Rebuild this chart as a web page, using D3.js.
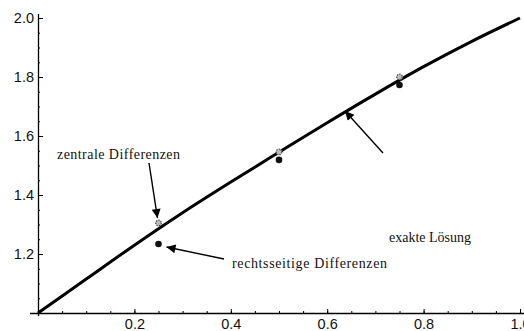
<!DOCTYPE html>
<html lang="de">
<head>
<meta charset="UTF-8">
<title>Differenzenverfahren</title>
<script src="https://d3js.org/d3.v7.min.js"></script>
<style>
    body { margin: 0; background: #fff; }
    svg { font-family: "Liberation Serif", "DejaVu Serif", serif; }
    .axis path, .axis line { stroke: #000; stroke-width: 1px; }
    .axis .domain { stroke-width: 1.3px; }
    .axis text { font-size: 14.5px; fill: #111; }
    .note { font-size: 14px; fill: #111; }
</style>
</head>
<body>
<svg id="chart" width="524" height="331"></svg>
<script>
    // exakte Lösung
    const xExact = [0, 0.1, 0.2, 0.3, 0.4, 0.5, 0.6, 0.7, 0.8, 0.9, 1.0];
    const yExact = [1.0, 1.115, 1.23, 1.34, 1.444, 1.545, 1.645, 1.742, 1.835, 1.921, 2.0];

    // Gitterpunkte
    const xNodes = [0.25, 0.5, 0.75];
    const yCentral = [1.305, 1.546, 1.80];
    const yRight = [1.234, 1.519, 1.773];

    const xMajor = [0.2, 0.4, 0.6, 0.8, 1.0];
    const yMajor = [1.2, 1.4, 1.6, 1.8, 2.0];

    const svg = d3.select('#chart');
    const x = d3.scaleLinear().domain([0, 1]).range([38, 520]);
    const y = d3.scaleLinear().domain([1, 2]).range([313, 18]);

    const minor = d3.range(0.05, 1.0001, 0.05);

    // x axis: ticks pointing up into the plot
    svg.append('g').attr('class', 'axis')
        .attr('transform', `translate(0,${y(1)})`)
        .call(d3.axisBottom(x).tickValues(minor).tickSizeInner(-2).tickSizeOuter(0).tickFormat(''))
        .select('.domain').attr('d', `M30,0.5H524`);
    svg.append('g').attr('class', 'axis')
        .attr('transform', `translate(0,${y(1)})`)
        .call(d3.axisBottom(x).tickValues(xMajor).tickSizeInner(-4).tickSizeOuter(0).tickPadding(6).tickFormat(d3.format('.1f')))
        .call(g => g.select('.domain').remove());

    // y axis
    svg.append('g').attr('class', 'axis')
        .attr('transform', `translate(${x(0)},0)`)
        .call(d3.axisLeft(y).tickValues(minor.map(d => d + 1)).tickSizeInner(-2).tickSizeOuter(0).tickFormat(''))
        .select('.domain').attr('d', `M0.5,14V316`);
    svg.append('g').attr('class', 'axis')
        .attr('transform', `translate(${x(0)},0)`)
        .call(d3.axisLeft(y).tickValues(yMajor).tickSizeInner(-5).tickSizeOuter(0).tickPadding(4).tickFormat(d3.format('.1f')))
        .call(g => g.select('.domain').remove());

    // exact solution
    const line = d3.line()
        .x((d, i) => x(xExact[i]))
        .y(d => y(d))
        .curve(d3.curveMonotoneX);
    svg.append('path')
        .datum(yExact)
        .attr('d', line)
        .attr('fill', 'none')
        .attr('stroke', '#000')
        .attr('stroke-width', 3);

    // rechtsseitige Differenzen
    svg.selectAll('circle.right')
        .data(yRight)
        .join('circle')
        .attr('class', 'right')
        .attr('cx', (d, i) => x(xNodes[i]))
        .attr('cy', d => y(d))
        .attr('r', 3.3)
        .attr('fill', '#111');

    // zentrale Differenzen
    svg.selectAll('circle.central')
        .data(yCentral)
        .join('circle')
        .attr('class', 'central')
        .attr('cx', (d, i) => x(xNodes[i]))
        .attr('cy', d => y(d))
        .attr('r', 2.8)
        .attr('fill', '#bbb')
        .attr('stroke', '#555')
        .attr('stroke-width', 1.3)
        .attr('stroke-dasharray', '1.5,1');

    // arrows
    svg.append('defs').append('marker')
        .attr('id', 'head')
        .attr('viewBox', '0 0 10 10')
        .attr('refX', 10).attr('refY', 5)
        .attr('markerWidth', 15).attr('markerHeight', 9)
        .attr('markerUnits', 'userSpaceOnUse')
        .attr('orient', 'auto')
        .append('path').attr('d', 'M0,0L10,5L0,10Z').attr('fill', '#000');

    const notes = [
        { text: 'zentrale Differenzen', tx: 57, ty: 159, w: 123, from: [149, 163], to: [x(0.25) - 1, y(1.305) - 5] },
        { text: 'rechtsseitige Differenzen', tx: 232, ty: 268, w: 155, from: [224, 259], to: [x(0.25) + 8, y(1.234) + 3] },
        { text: 'exakte Lösung', tx: 389, ty: 242, w: null, from: [383, 153], to: [345, 111] }
    ];

    svg.selectAll('line.arrow')
        .data(notes)
        .join('line')
        .attr('class', 'arrow')
        .attr('x1', d => d.from[0]).attr('y1', d => d.from[1])
        .attr('x2', d => d.to[0]).attr('y2', d => d.to[1])
        .attr('stroke', '#000')
        .attr('stroke-width', 1.4)
        .attr('marker-end', 'url(#head)');

    svg.selectAll('text.note')
        .data(notes)
        .join('text')
        .attr('class', 'note')
        .attr('x', d => d.tx)
        .attr('y', d => d.ty)
        .attr('textLength', d => d.w)
        .attr('lengthAdjust', d => d.w ? 'spacing' : null)
        .text(d => d.text);
</script>
</body>
</html>
